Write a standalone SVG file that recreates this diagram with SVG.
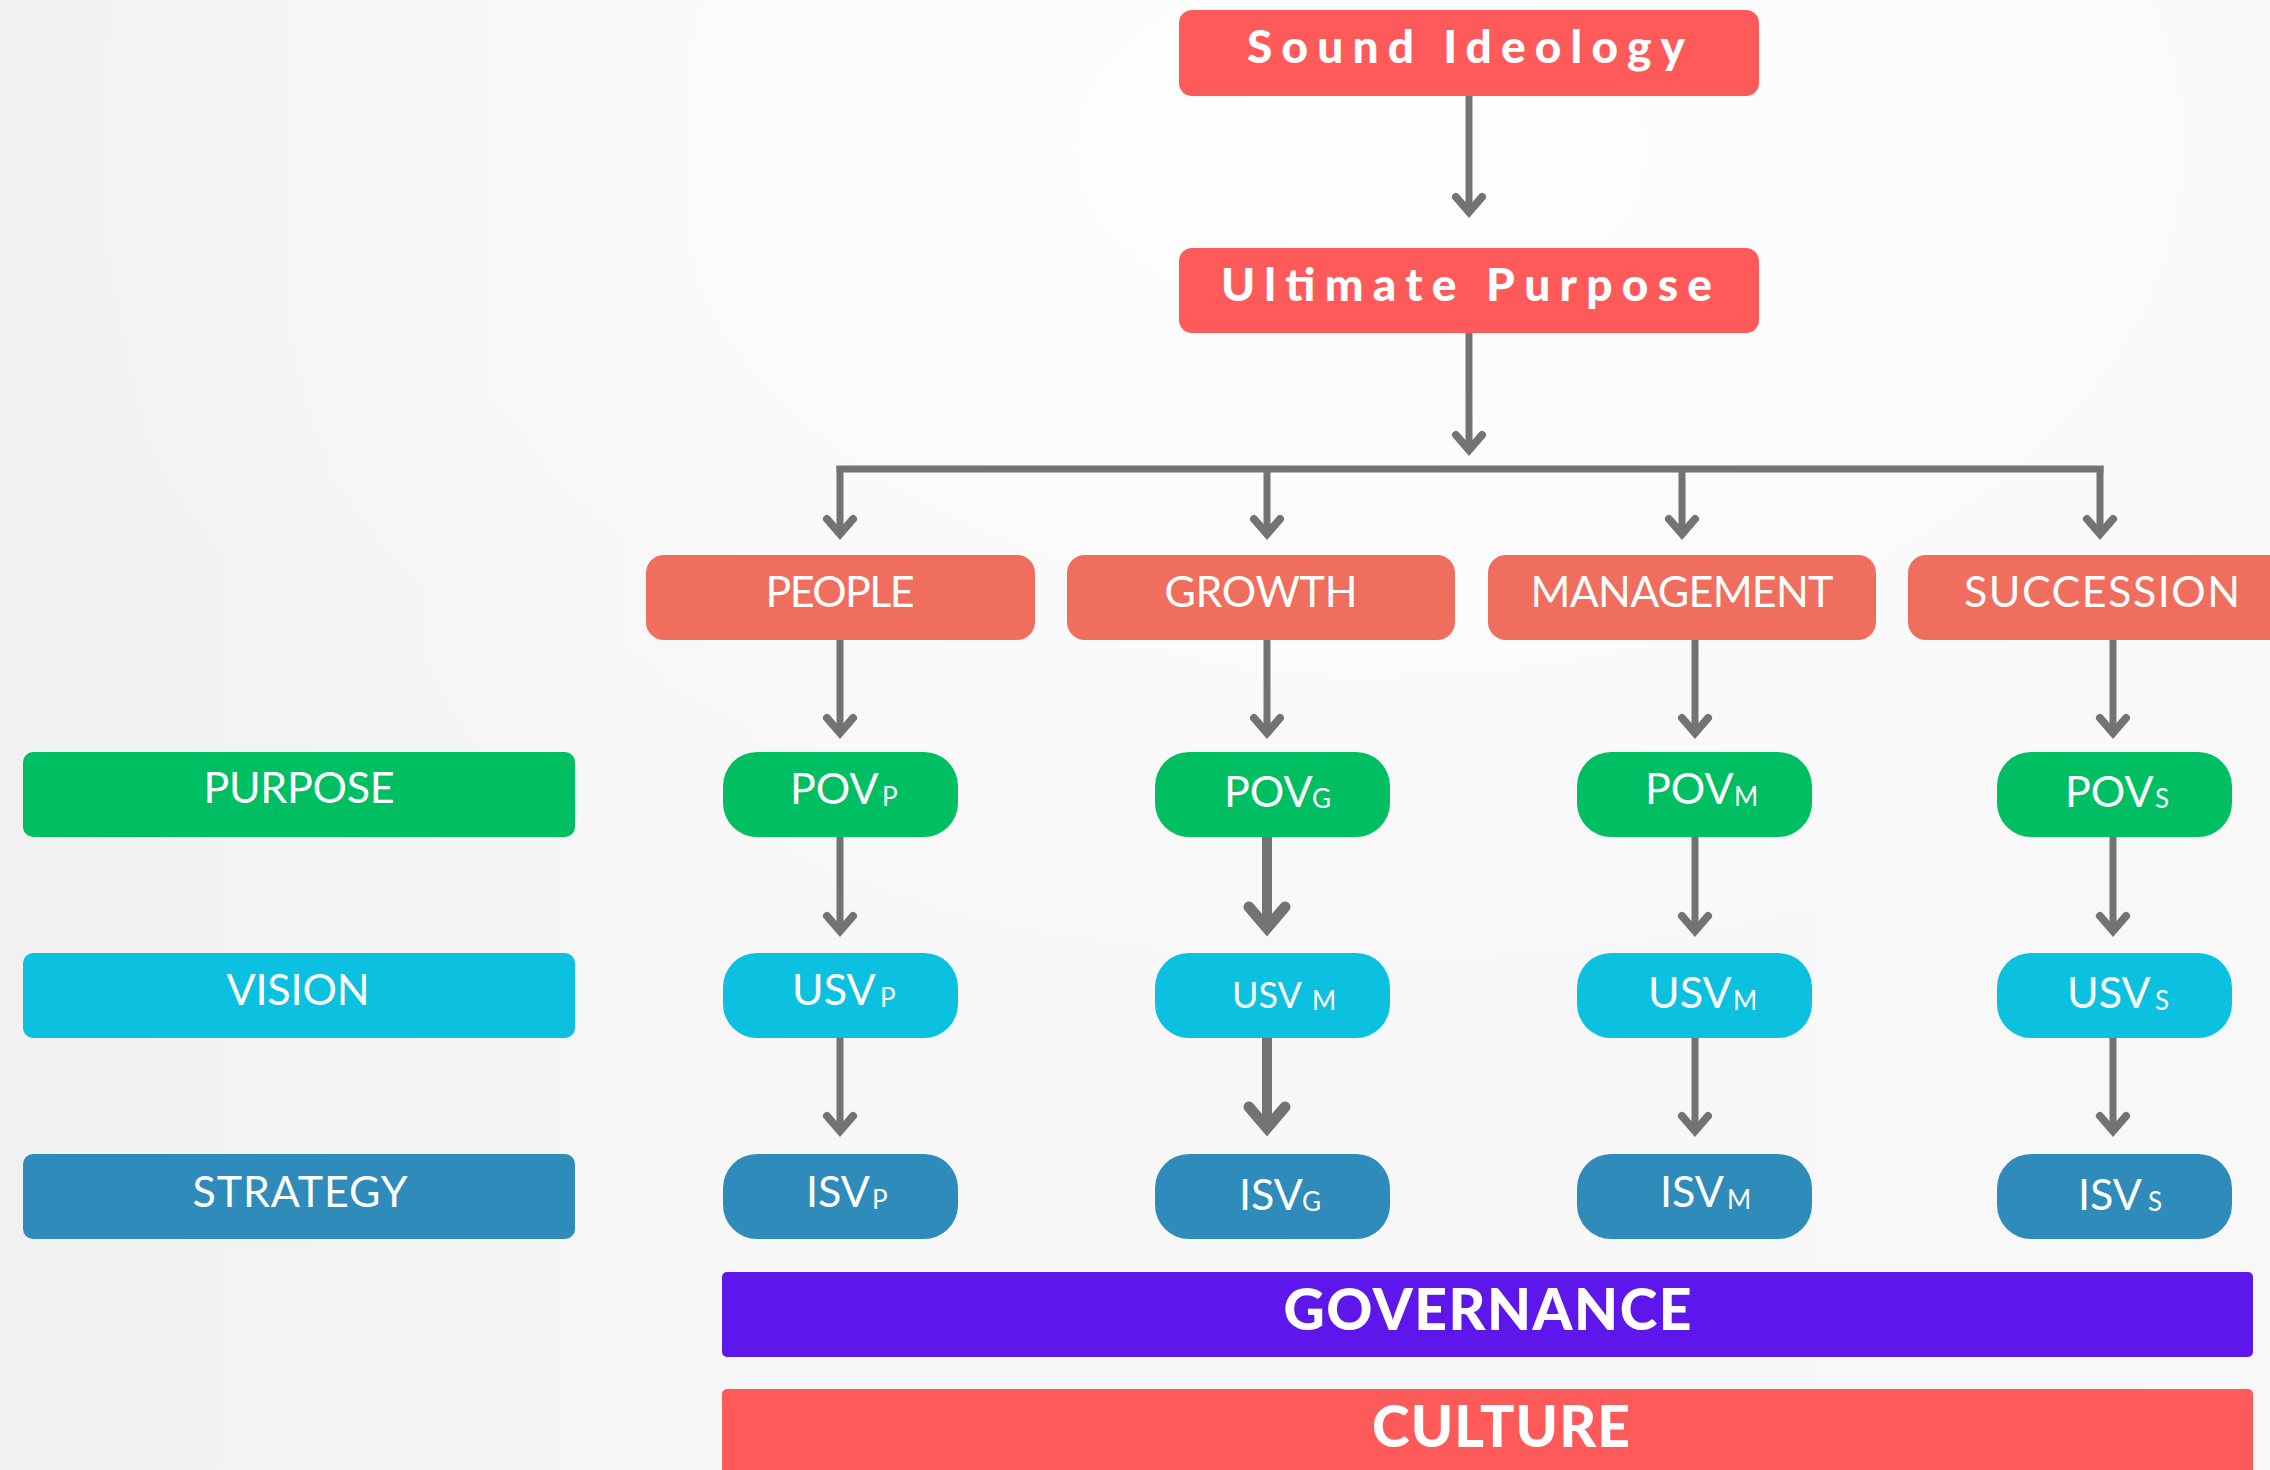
<svg xmlns="http://www.w3.org/2000/svg" width="2270" height="1470" viewBox="0 0 2270 1470">
  <defs>
    <linearGradient id="bg" x1="0" y1="0" x2="1" y2="0">
      <stop offset="0" stop-color="#F1F1F1"/>
      <stop offset="0.35" stop-color="#F7F7F7"/>
      <stop offset="1" stop-color="#F8F8F8"/>
    </linearGradient>
    <radialGradient id="glow" cx="0.6" cy="0.1" r="0.6">
      <stop offset="0" stop-color="#FFFFFF" stop-opacity="0.9"/>
      <stop offset="1" stop-color="#FFFFFF" stop-opacity="0"/>
    </radialGradient>
    <marker id="ah" markerUnits="userSpaceOnUse" viewBox="-30 -25 45 50" markerWidth="45" markerHeight="50" refX="0" refY="0" orient="auto">
      <path d="M-15,-13 L0,0 L-15,13" fill="none" stroke="#737373" stroke-width="8" stroke-linecap="round" stroke-linejoin="miter"/>
    </marker>
    <marker id="ahb" markerUnits="userSpaceOnUse" viewBox="-40 -35 60 70" markerWidth="60" markerHeight="70" refX="0" refY="0" orient="auto">
      <path d="M-21,-18 L0,0 L-21,18" fill="none" stroke="#737373" stroke-width="11" stroke-linecap="round" stroke-linejoin="miter"/>
    </marker>
  </defs>
  <style>
    .top { fill: #FF5A5A; }
    .cat { fill: #EF6E5D; }
    .pur { fill: #00BF63; }
    .vis { fill: #0CC1E0; }
    .str { fill: #2E8BBA; }
    .gov { fill: #5E17EB; }
    .cul { fill: #FF5A5A; }
    .t-bold { font-family: Lato, "Liberation Sans", sans-serif; font-weight: 900; fill: #FFFFFF; font-size: 46px; }
    .t-big { font-family: Lato, "Liberation Sans", sans-serif; font-weight: 900; fill: #FFFFFF; font-size: 57px; }
    .t { font-family: Lato, "Liberation Sans", sans-serif; font-weight: 400; fill: #FFFFFF; font-size: 43px; }
    .sub { font-size: 26px; }
    .conn { fill: none; stroke: #737373; stroke-width: 7; }
    .thick { stroke-width: 10; }
  </style>

  <rect x="0" y="0" width="2270" height="1470" fill="url(#bg)"/>
  <rect x="0" y="0" width="2270" height="1470" fill="url(#glow)"/>

  <g id="connectors">
    <line class="conn" x1="1469" y1="96" x2="1469" y2="212" marker-end="url(#ah)"/>
    <line class="conn" x1="1469" y1="333" x2="1469" y2="450" marker-end="url(#ah)"/>
    <path class="conn" d="M836.5,469 H2103.5"/>
    <line class="conn" x1="840" y1="466" x2="840" y2="534" marker-end="url(#ah)"/>
    <line class="conn" x1="1267" y1="466" x2="1267" y2="534" marker-end="url(#ah)"/>
    <line class="conn" x1="1682" y1="466" x2="1682" y2="534" marker-end="url(#ah)"/>
    <line class="conn" x1="2100" y1="466" x2="2100" y2="534" marker-end="url(#ah)"/>

    <line class="conn" x1="840" y1="640" x2="840" y2="733" marker-end="url(#ah)"/>
    <line class="conn" x1="1267" y1="640" x2="1267" y2="733" marker-end="url(#ah)"/>
    <line class="conn" x1="1695" y1="640" x2="1695" y2="733" marker-end="url(#ah)"/>
    <line class="conn" x1="2113" y1="640" x2="2113" y2="733" marker-end="url(#ah)"/>

    <line class="conn" x1="840" y1="837" x2="840" y2="931" marker-end="url(#ah)"/>
    <line class="conn thick" x1="1267" y1="837" x2="1267" y2="928" marker-end="url(#ahb)"/>
    <line class="conn" x1="1695" y1="837" x2="1695" y2="931" marker-end="url(#ah)"/>
    <line class="conn" x1="2113" y1="837" x2="2113" y2="931" marker-end="url(#ah)"/>

    <line class="conn" x1="840" y1="1038" x2="840" y2="1131" marker-end="url(#ah)"/>
    <line class="conn thick" x1="1267" y1="1038" x2="1267" y2="1128" marker-end="url(#ahb)"/>
    <line class="conn" x1="1695" y1="1038" x2="1695" y2="1131" marker-end="url(#ah)"/>
    <line class="conn" x1="2113" y1="1038" x2="2113" y2="1131" marker-end="url(#ah)"/>
  </g>

  <g id="sound-ideology">
    <rect class="top" x="1179" y="10" width="580" height="86" rx="13"/>
    <text class="t-bold" x="1466" y="63" text-anchor="middle" textLength="438" lengthAdjust="spacing">Sound Ideology</text>
  </g>
  <g id="ultimate-purpose">
    <rect class="top" x="1179" y="248" width="580" height="85" rx="13"/>
    <text class="t-bold" x="1466.5" y="301" text-anchor="middle" textLength="491" lengthAdjust="spacing">Ultimate Purpose</text>
  </g>

  <g id="people">
    <rect class="cat" x="646" y="555" width="389" height="85" rx="18"/>
    <text class="t" x="840" y="607" text-anchor="middle" textLength="149" lengthAdjust="spacing">PEOPLE</text>
  </g>
  <g id="growth">
    <rect class="cat" x="1067" y="555" width="388" height="85" rx="18"/>
    <text class="t" x="1261" y="607" text-anchor="middle" textLength="193" lengthAdjust="spacing">GROWTH</text>
  </g>
  <g id="management">
    <rect class="cat" x="1488" y="555" width="388" height="85" rx="18"/>
    <text class="t" x="1682" y="607" text-anchor="middle" textLength="303" lengthAdjust="spacing">MANAGEMENT</text>
  </g>
  <g id="succession">
    <rect class="cat" x="1908" y="555" width="400" height="85" rx="18"/>
    <text class="t" x="2102" y="607" text-anchor="middle" textLength="276" lengthAdjust="spacing">SUCCESSION</text>
  </g>

  <g id="purpose">
    <rect class="pur" x="23" y="752" width="552" height="85" rx="10"/>
    <text class="t" x="299" y="803" text-anchor="middle" textLength="191" lengthAdjust="spacing">PURPOSE</text>
  </g>
  <g id="vision">
    <rect class="vis" x="23" y="953" width="552" height="85" rx="10"/>
    <text class="t" x="298" y="1005" text-anchor="middle" textLength="143" lengthAdjust="spacing">VISION</text>
  </g>
  <g id="strategy">
    <rect class="str" x="23" y="1154" width="552" height="85" rx="10"/>
    <text class="t" x="300" y="1207" text-anchor="middle" textLength="215" lengthAdjust="spacing">STRATEGY</text>
  </g>

  <g id="pov-p">
    <rect class="pur" x="723" y="752" width="235" height="85" rx="34"/>
    <text class="t" x="790" y="804">POV<tspan class="sub" x="882" y="806">P</tspan></text>
  </g>
  <g id="pov-g">
    <rect class="pur" x="1155" y="752" width="235" height="85" rx="34"/>
    <text class="t" x="1224" y="807">POV<tspan class="sub" x="1312" y="808">G</tspan></text>
  </g>
  <g id="pov-m">
    <rect class="pur" x="1577" y="752" width="235" height="85" rx="34"/>
    <text class="t" x="1645" y="804">POV<tspan class="sub" x="1734" y="806">M</tspan></text>
  </g>
  <g id="pov-s">
    <rect class="pur" x="1997" y="752" width="235" height="85" rx="34"/>
    <text class="t" x="2065" y="807">POV<tspan class="sub" x="2155" y="808">S</tspan></text>
  </g>

  <g id="usv-p">
    <rect class="vis" x="723" y="953" width="235" height="85" rx="34"/>
    <text class="t" x="792" y="1005">USV<tspan class="sub" x="880" y="1007">P</tspan></text>
  </g>
  <g id="usv-g">
    <rect class="vis" x="1155" y="953" width="235" height="85" rx="34"/>
    <text class="t" x="1232" y="1008" style="font-size:36px">USV <tspan class="sub" x="1312" y="1010">M</tspan></text>
  </g>
  <g id="usv-m">
    <rect class="vis" x="1577" y="953" width="235" height="85" rx="34"/>
    <text class="t" x="1648" y="1008">USV<tspan class="sub" x="1733" y="1010">M</tspan></text>
  </g>
  <g id="usv-s">
    <rect class="vis" x="1997" y="953" width="235" height="85" rx="34"/>
    <text class="t" x="2067" y="1008">USV<tspan class="sub" x="2155" y="1010">S</tspan></text>
  </g>

  <g id="isv-p">
    <rect class="str" x="723" y="1154" width="235" height="85" rx="34"/>
    <text class="t" x="806" y="1207">ISV<tspan class="sub" x="872" y="1209">P</tspan></text>
  </g>
  <g id="isv-g">
    <rect class="str" x="1155" y="1154" width="235" height="85" rx="34"/>
    <text class="t" x="1239" y="1210">ISV<tspan class="sub" x="1302" y="1211">G</tspan></text>
  </g>
  <g id="isv-m">
    <rect class="str" x="1577" y="1154" width="235" height="85" rx="34"/>
    <text class="t" x="1660" y="1207">ISV<tspan class="sub" x="1727" y="1209">M</tspan></text>
  </g>
  <g id="isv-s">
    <rect class="str" x="1997" y="1154" width="235" height="85" rx="34"/>
    <text class="t" x="2078" y="1210">ISV<tspan class="sub" x="2148" y="1211">S</tspan></text>
  </g>

  <g id="governance">
    <rect class="gov" x="722" y="1272" width="1531" height="85" rx="5"/>
    <text class="t-big" x="1487.5" y="1330" text-anchor="middle" textLength="408" lengthAdjust="spacing">GOVERNANCE</text>
  </g>
  <g id="culture">
    <rect class="cul" x="722" y="1389" width="1531" height="110" rx="5"/>
    <text class="t-big" x="1501" y="1447" text-anchor="middle" textLength="258" lengthAdjust="spacing">CULTURE</text>
  </g>
</svg>
